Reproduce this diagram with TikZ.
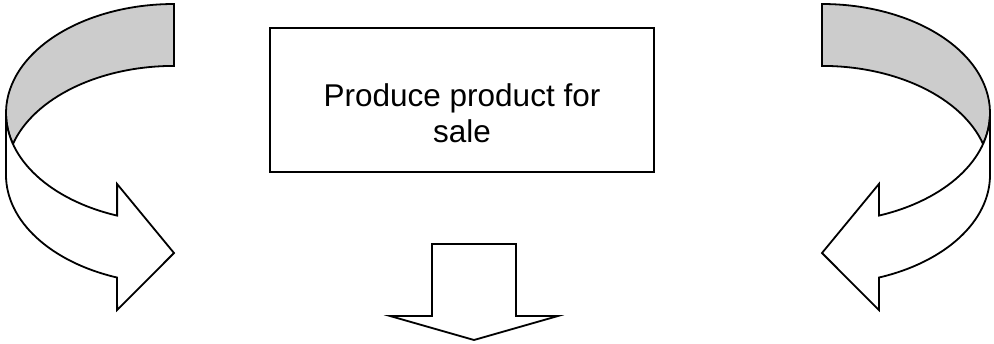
\documentclass[tikz,border=0pt]{standalone}
\usepackage{fontspec}
\setmainfont{Liberation Sans}
\definecolor{bandgray}{gray}{0.8}
\tikzset{
  outline/.style={draw=black, line width=1.8pt, line join=miter},
  backband/.style={outline, fill=bandgray},
  frontband/.style={outline, fill=white},
  ribbonarc/.style={x radius=168pt, y radius=109pt},
  stepbox/.style={draw=black, line width=1.8pt, minimum width=384pt, minimum height=144pt, inner sep=0pt},
  steptext/.style={align=center, inner sep=0pt, font=\fontsize{31.5}{36.7}\selectfont},
}
\begin{document}
\begin{tikzpicture}[x=1pt, y=1pt]
  \useasboundingbox (0,0) rectangle (994,-343);

  % Each turning arrow is a ribbon bounded by two equal ellipses,
  % the lower one shifted down by the ribbon width.

  % left turning arrow: far side (shaded)
  \path[backband] (174,-4)
    arc[start angle=90, end angle=196.5, ribbonarc]
    arc[start angle=163.5, end angle=90, ribbonarc]
    -- cycle;
  % left turning arrow: near side with head
  \path[frontband] (6,-113) -- (6,-175)
    arc[start angle=180, end angle=250.2, ribbonarc]
    -- (117.1,-310) -- (174,-253) -- (117.1,-184) -- (117.1,-215.6)
    arc[start angle=250.2, end angle=180, ribbonarc]
    -- cycle;

  % right turning arrow: far side (shaded)
  \path[backband] (822,-4)
    arc[start angle=90, end angle=-16.5, ribbonarc]
    arc[start angle=16.5, end angle=90, ribbonarc]
    -- cycle;
  % right turning arrow: near side with head
  \path[frontband] (990,-113) -- (990,-175)
    arc[start angle=0, end angle=-70.2, ribbonarc]
    -- (878.9,-310) -- (822,-253) -- (878.9,-184) -- (878.9,-215.6)
    arc[start angle=-70.2, end angle=0, ribbonarc]
    -- cycle;

  % process step
  \node[stepbox] (produce) at (462,-100) {};
  \node[steptext, anchor=north] (producetext) at (462,-83) {Produce product for\\ sale};

  % straight arrow pointing down
  \path[frontband] (432,-244) -- (516,-244) -- (516,-316) -- (558,-316)
    -- (474,-340) -- (390,-316) -- (432,-316) -- cycle;
\end{tikzpicture}
\end{document}
